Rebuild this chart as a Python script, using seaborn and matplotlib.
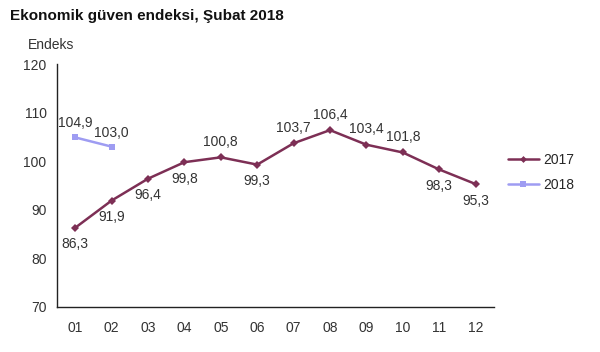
import matplotlib
matplotlib.use("Agg")
import matplotlib.pyplot as plt
import seaborn as sns
import pandas as pd

# data
months = ["01", "02", "03", "04", "05", "06", "07", "08", "09", "10", "11", "12"]
values_2017 = [86.3, 91.9, 96.4, 99.8, 100.8, 99.3, 103.7, 106.4, 103.4, 101.8, 98.3, 95.3]
values_2018 = [104.9, 103.0]
# label placement for 2017: True = above the point
above_2017 = [False, False, False, False, True, False, True, True, True, True, False, False]

df = pd.concat([
    pd.DataFrame({"ay": months, "endeks": values_2017, "yil": "2017"}),
    pd.DataFrame({"ay": months[:len(values_2018)], "endeks": values_2018, "yil": "2018"}),
])
df["x"] = df["ay"].map({m: i for i, m in enumerate(months)})

sns.set_style("white")
plt.rcParams["font.family"] = ["Liberation Sans", "DejaVu Sans"]

colors = {"2017": "#7d2f55", "2018": "#9e9cf2"}
fig = plt.figure(figsize=(6, 3.52), dpi=100)
ax = fig.add_axes([0.095, 0.128, 0.728, 0.69])

sns.lineplot(data=df, x="x", y="endeks", hue="yil", style="yil",
             markers={"2017": "D", "2018": "s"}, dashes=False,
             palette=colors, linewidth=1.8, markersize=4.5,
             markeredgewidth=0, ax=ax, legend=False)

for i, v in enumerate(values_2017):
    off = 6 if above_2017[i] else -7
    ax.annotate(f"{v:.1f}".replace(".", ","), (i, v), xytext=(0, off),
                textcoords="offset points", ha="center",
                va="bottom" if above_2017[i] else "top",
                fontsize=10, color="#333333")
for i, v in enumerate(values_2018):
    ax.annotate(f"{v:.1f}".replace(".", ","), (i, v), xytext=(0, 5),
                textcoords="offset points", ha="center", va="bottom",
                fontsize=10, color="#333333")

ax.set_xlim(-0.5, 11.5)
ax.set_ylim(70, 120)
ax.set_yticks(range(70, 121, 10))
ax.set_xticks(range(len(months)))
ax.set_xticklabels(months)
ax.set_xlabel("")
ax.set_ylabel("")
for s in ["top", "right"]:
    ax.spines[s].set_visible(False)
for s in ["left", "bottom"]:
    ax.spines[s].set_color("#222222")
    ax.spines[s].set_linewidth(1.0)
ax.tick_params(axis="both", direction="out", length=4, width=0.8,
               color="#222222", labelsize=10, labelcolor="#333333")
ax.tick_params(axis="x", pad=6)

fig.text(0.017, 0.955, "Ekonomik güven endeksi, Şubat 2018", fontsize=11,
         fontweight="bold", va="center", color="#111111")
fig.text(0.047, 0.872, "Endeks", fontsize=10, va="center", color="#333333")

handles = [plt.Line2D([], [], color=colors["2017"], marker="D", markersize=3.5,
                      markeredgewidth=0, linewidth=1.8),
           plt.Line2D([], [], color=colors["2018"], marker="s", markersize=4,
                      markeredgewidth=0, linewidth=1.8)]
fig.legend(handles, ["2017", "2018"], loc="center left",
           bbox_to_anchor=(0.826, 0.51), frameon=False, fontsize=10,
           handlelength=2.2, handletextpad=0.3, labelspacing=0.75)

fig.savefig("out.png", dpi=100)
